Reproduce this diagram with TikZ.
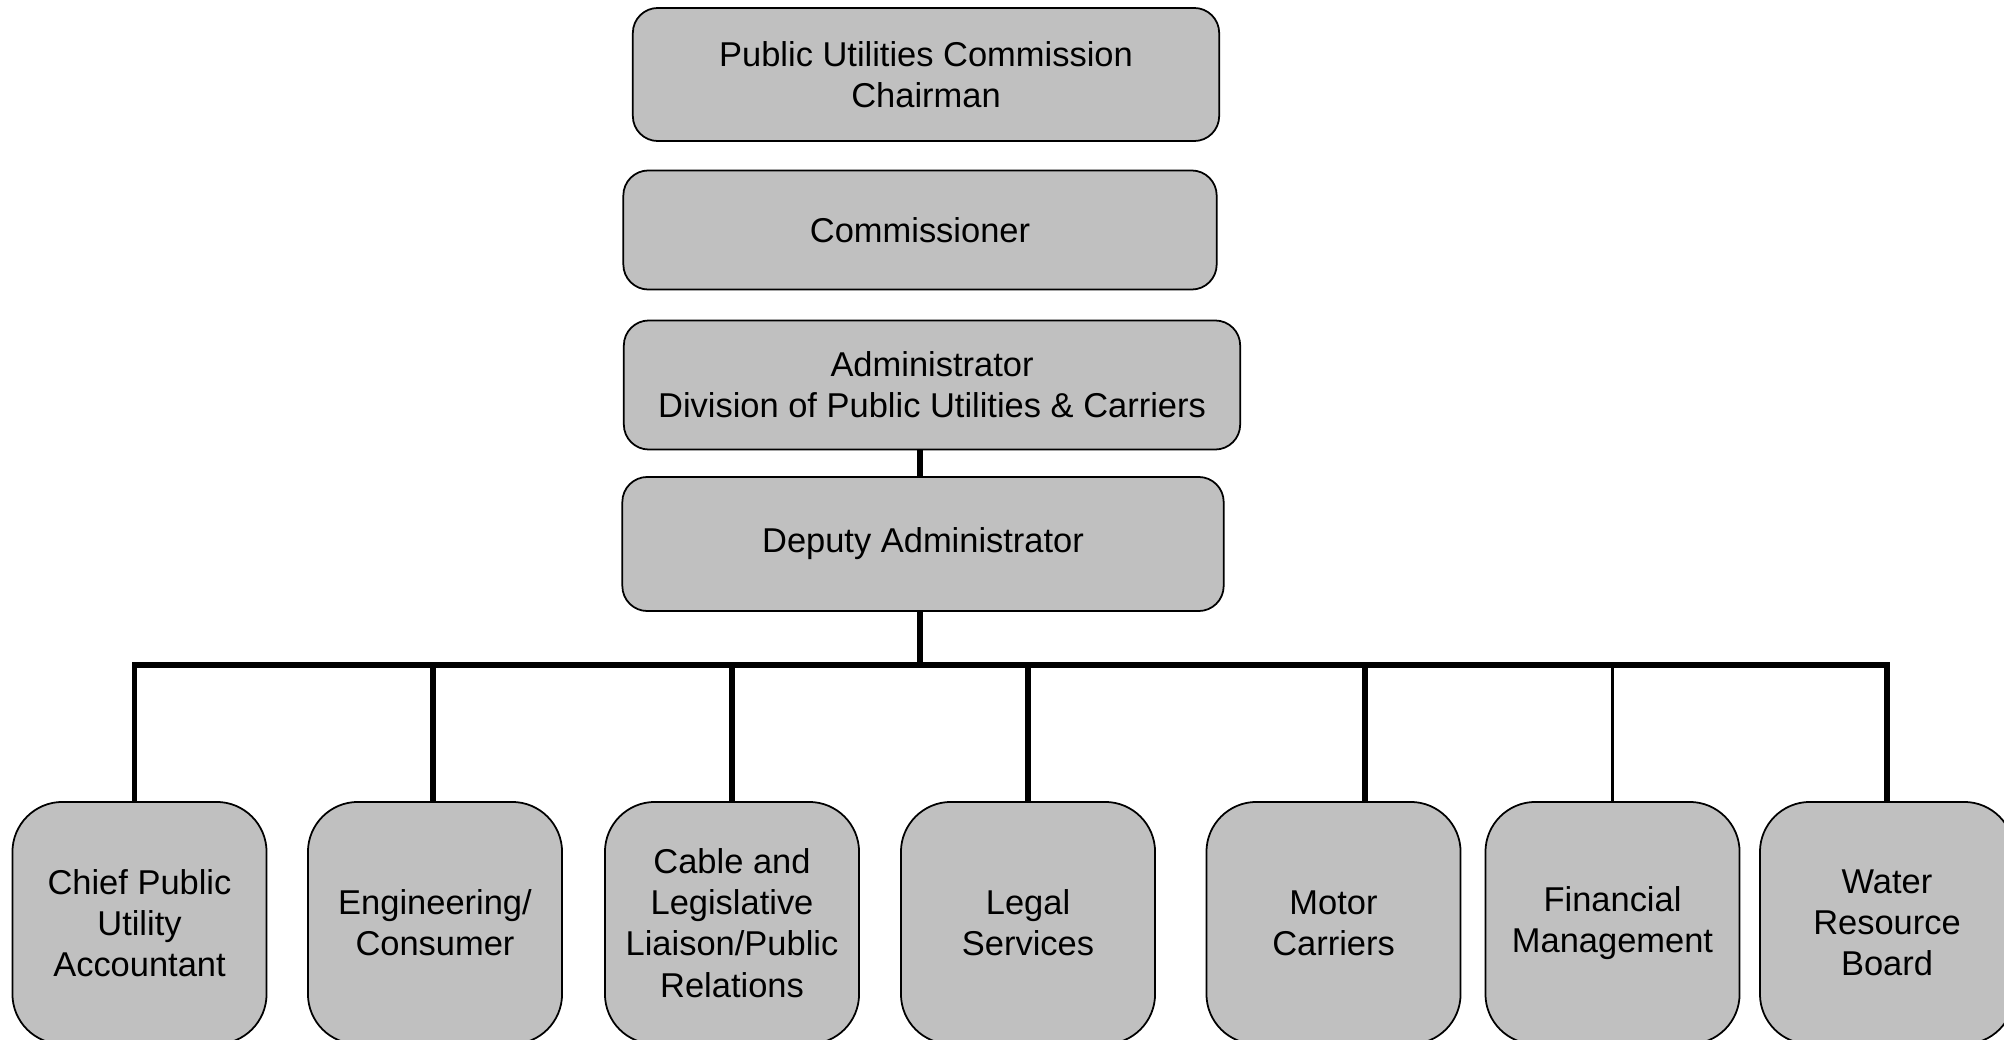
\documentclass[tikz,border=0pt]{standalone}
\usepackage{fontspec}
\setmainfont{Liberation Sans}
\definecolor{boxgray}{RGB}{192,192,192}

\begin{document}
\begin{tikzpicture}[x=0.01cm, y=-0.01cm,
        office/.style={draw, line width=0.5pt, fill=boxgray, rounded corners=0.25cm,
                align=center, inner sep=0pt, font=\fontsize{9.8}{11.7}\selectfont},
        unit/.style={office, rounded corners=0.5cm, minimum width=2.54cm, minimum height=2.42cm},
        link/.style={line width=1.5pt}]
        \useasboundingbox (0,0) rectangle (2004,1040);
        % Draw top offices
        \node [office, minimum width=5.86cm, minimum height=1.33cm] (chairman) at (926,74.5)
                {Public Utilities Commission\\Chairman};
        \node [office, minimum width=5.93cm, minimum height=1.19cm] (commissioner) at (920,230)
                {Commissioner};
        \node [office, minimum width=6.16cm, minimum height=1.29cm] (admin) at (932,385)
                {Administrator\\Division of Public Utilities \& Carriers};
        \node [office, minimum width=6.01cm, minimum height=1.34cm] (deputy) at (923,544)
                {Deputy Administrator};
        % Draw sections
        \node [unit] (chief) at (139.5,923) {Chief Public\\Utility\\Accountant};
        \node [unit] (engineering) at (435,923) {Engineering/\\Consumer};
        \node [unit] (cable) at (732,923) {Cable and\\Legislative\\Liaison/Public\\Relations};
        \node [unit] (legal) at (1028,923) {Legal\\Services};
        \node [unit] (motor) at (1333.5,923) {Motor\\Carriers};
        \node [unit] (finance) at (1612.5,923) {Financial\\Management};
        \node [unit] (water) at (1887,923) {Water\\Resource\\Board};
        % Draw lines
        \coordinate (bus) at (920,665);
        \draw [link] (admin.south -| bus) -- (deputy.north -| bus);
        \draw [link] (deputy.south -| bus) -- (bus);
        \draw [link] (bus) -| ([xshift=-0.05cm]chief.north);
        \draw [link] (bus) -| ([xshift=-0.02cm]engineering.north);
        \draw [link] (bus) -| (cable.north);
        \draw [link] (bus) -| (legal.north);
        \draw [link] (bus) -| ([xshift=0.315cm]motor.north);
        \draw [link, line width=1pt] (bus) -| (finance.north);
        \draw [link] (bus) -| (water.north);
\end{tikzpicture}
\end{document}
